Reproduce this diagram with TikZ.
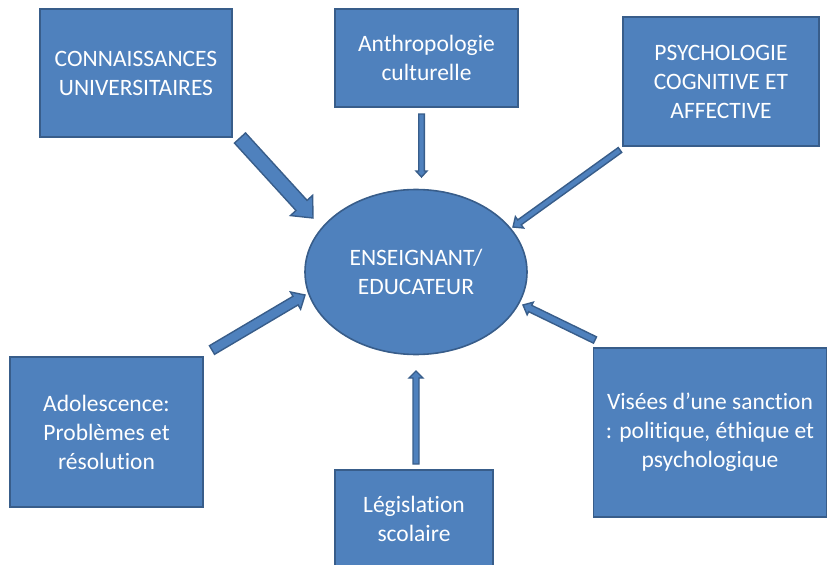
\documentclass[tikz,border=0pt]{standalone}
\usepackage{fontspec}
\setmainfont{Carlito}[Ligatures=NoCommon]
\usepackage{tikz}
\usepackage{xcolor}
\usetikzlibrary{calc,shapes.geometric}
\definecolor{boxfill}{HTML}{4F81BD}
\definecolor{boxline}{HTML}{385D8A}
\tikzset{
    blue-box/.style = {draw=boxline, fill=boxfill, line width=1.6pt, rectangle, text=white, align=center, inner sep=0pt, font=\fontsize{23.5}{29}\selectfont},
    blue-ellipse/.style = {blue-box, ellipse},
    block-arrow/.style = {draw=boxline, fill=boxfill, line width=1.4pt, line join=miter},
}
% tail, tip, half shaft, half head, head length
\newcommand{\blockarrow}[5]{%
  \coordinate (ba) at ($(#2)!#5!(#1)$);
  \draw[block-arrow] ($(#1)!#3!90:(#2)$) -- ($(ba)!#3!90:(#2)$) -- ($(ba)!#4!90:(#2)$) -- (#2)
    -- ($(ba)!#4!-90:(#2)$) -- ($(ba)!#3!-90:(#2)$) -- ($(#1)!#3!-90:(#2)$) -- cycle;
}

\begin{document}
\begin{tikzpicture}[x=1pt, y=-1pt]
\useasboundingbox (0,0) rectangle (828,565);

\node[blue-ellipse, minimum width=222pt, minimum height=165pt] (teacher) at (416,272) {ENSEIGNANT/\\EDUCATEUR};

\node[blue-box, minimum width=192pt, minimum height=128pt] (univ) at (136,73) {CONNAISSANCES\\UNIVERSITAIRES};
\node[blue-box, minimum width=183pt, minimum height=98pt] (anthro) at (426.5,58) {Anthropologie\\culturelle};
\node[blue-box, minimum width=196pt, minimum height=129pt] (psycho) at (721,81.5) {PSYCHOLOGIE\\COGNITIVE ET\\AFFECTIVE};
\node[blue-box, minimum width=193pt, minimum height=150pt] (ado) at (106.5,432) {Adolescence:\\Problèmes et\\résolution};
\node[blue-box, minimum width=158pt, minimum height=98pt] (legis) at (414,519) {Législation\\scolaire};
\node[blue-box, minimum width=233pt, minimum height=169pt] (visees) at (710,432.5) {Visées d’une sanction\\: politique, éthique et\\psychologique};

% arrow ends
\coordinate (univ-out) at (240,138);
\coordinate (univ-in) at (313,218);
\coordinate (anthro-out) at (421.5,114);
\coordinate (anthro-in) at (421.5,177);
\coordinate (psycho-out) at (620,150);
\coordinate (psycho-in) at (513,227);
\coordinate (ado-out) at (212,350);
\coordinate (ado-in) at (305,295);
\coordinate (visees-out) at (595,340);
\coordinate (visees-in) at (523,305);
\coordinate (legis-out) at (416,464);
\coordinate (legis-in) at (416,371);

\blockarrow{univ-out}{univ-in}{7.5pt}{15pt}{17pt}
\blockarrow{anthro-out}{anthro-in}{2.8pt}{5.5pt}{6pt}
\blockarrow{psycho-out}{psycho-in}{3pt}{7pt}{8pt}
\blockarrow{ado-out}{ado-in}{5pt}{10pt}{11pt}
\blockarrow{visees-out}{visees-in}{3.5pt}{7pt}{8pt}
\blockarrow{legis-out}{legis-in}{3pt}{7pt}{7pt}
\end{tikzpicture}
\end{document}
